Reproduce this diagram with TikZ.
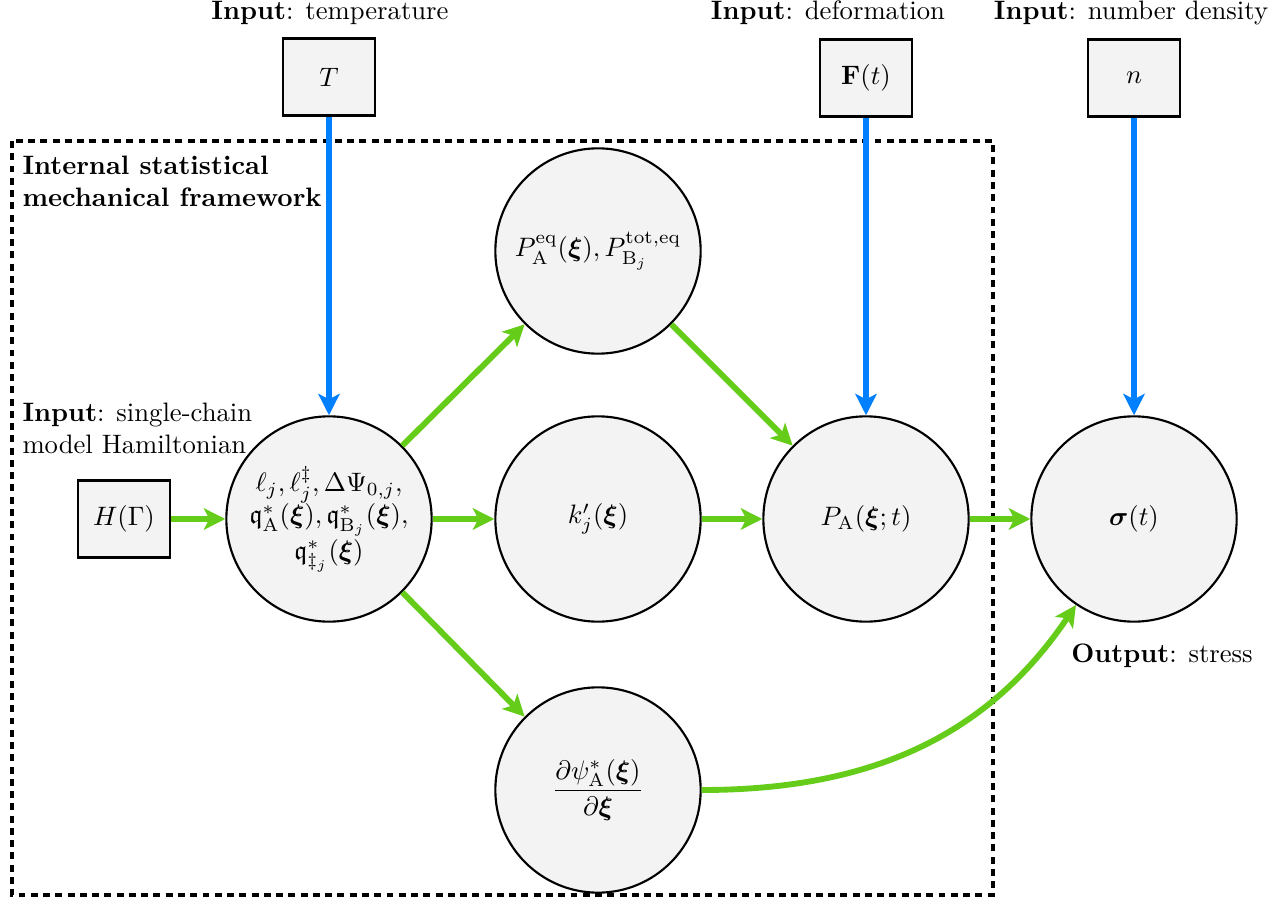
\documentclass[tikz,border=0pt]{standalone}
\usepackage{amsmath,amssymb,bm}
\usetikzlibrary{arrows.meta}
\definecolor{myblue}{RGB}{0,128,255}
\definecolor{mygreen}{RGB}{102,204,26}
\definecolor{nodefill}{RGB}{243,243,243}
\begin{document}
\begin{tikzpicture}[x=0.375pt,y=-0.375pt,
  circ/.style={circle,draw,line width=0.8pt,fill=nodefill,minimum size=77pt,inner sep=0pt,align=center},
  inbox/.style={rectangle,draw,line width=1.1pt,fill=nodefill,minimum width=34.5pt,minimum height=29pt,inner sep=0pt},
  bluearrow/.style={myblue,line width=2pt,-{Stealth[length=8pt,width=8pt,inset=2pt]}},
  greenarrow/.style={mygreen,line width=2.2pt,-{Stealth[length=8pt,width=8pt,inset=2pt]}},
  lbl/.style={inner sep=0pt}]
\useasboundingbox (0,0) rectangle (1287,901);
% framework boundary
\draw[line width=1.5pt,dash pattern=on 2.6pt off 2pt] (12,141) rectangle (993,895);
\node[lbl,anchor=north west,align=left,font=\bfseries] (fw) at (22,155) {Internal statistical\\mechanical framework};

% input boxes
\node[inbox] (T) at (329,77) {$T$};
\node[inbox] (F) at (866,78) {$\mathbf{F}(t)$};
\node[inbox] (n) at (1134,78) {$n$};
\node[inbox] (H) at (124,519) {$H(\Gamma)$};

% labels
\node[lbl,anchor=base] (lT) at (330,20) {\textbf{Input}: temperature};
\node[lbl,anchor=base] (lF) at (828,20) {\textbf{Input}: deformation};
\node[lbl,anchor=base] (ln) at (1131,20) {\textbf{Input}: number density};
\node[lbl,anchor=north west,align=left] (lH) at (22,402) {\textbf{Input}: single-chain\\model Hamiltonian};
\node[lbl,anchor=base] (lS) at (1162,662) {\textbf{Output}: stress};

% circles
\node[circ] (c1) at (329,519) {$\ell_j,\ell_j^{\ddagger},\Delta\Psi_{0,j},$\\
  $\mathfrak{q}_{\mathrm{A}}^*(\bm{\xi}),\mathfrak{q}_{\mathrm{B}_j}^*(\bm{\xi}),$\\
  $\mathfrak{q}_{\ddagger_j}^*(\bm{\xi})$};
\node[circ] (c2) at (598,251) {$P_{\mathrm{A}}^{\mathrm{eq}}(\bm{\xi}),P_{\mathrm{B}_j}^{\mathrm{tot,eq}}$};
\node[circ] (c3) at (598,519) {$k_j'(\bm{\xi})$};
\node[circ] (c4) at (866,519) {$P_{\mathrm{A}}(\bm{\xi};t)$};
\node[circ] (c5) at (1134,519) {$\bm{\sigma}(t)$};
\node[circ] (c6) at (598,790) {$\dfrac{\partial\psi_{\mathrm{A}}^*(\bm{\xi})}{\partial\bm{\xi}}$};

% blue input arrows
\draw[bluearrow] (T.south) -- (c1.north);
\draw[bluearrow] (F.south) -- (c4.north);
\draw[bluearrow] (n.south) -- (c5.north);

% green arrows
\draw[greenarrow] (H.east) -- (c1.west);
\draw[greenarrow] (c1.45) -- (c2.225);
\draw[greenarrow] (c1.east) -- (c3.west);
\draw[greenarrow] (c1.-45) -- (c6.135);
\draw[greenarrow] (c2.-45) -- (c4.135);
\draw[greenarrow] (c3.east) -- (c4.west);
\draw[greenarrow] (c4.east) -- (c5.west);
\draw[greenarrow] (c6.east) to[out=0,in=236] (c5.236);
\end{tikzpicture}
\end{document}
